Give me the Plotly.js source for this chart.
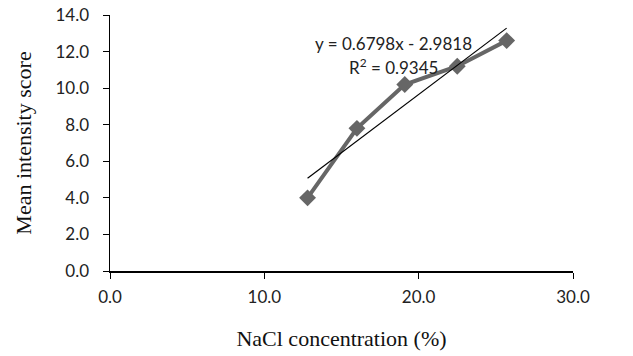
<!DOCTYPE html>
<html>
<head>
<meta charset="utf-8">
<script src="https://cdn.plot.ly/plotly-3.0.1.min.js"></script>
<style>html,body{margin:0;padding:0;background:#fff;}#chart{width:633px;height:356px;}</style>
</head>
<body>
<div id="chart"></div>
<script>
const nacl = [12.8, 16.0, 19.1, 22.5, 25.7];
const intensity = [4.0, 7.8, 10.2, 11.2, 12.6];
const equationText = 'y = 0.6798x - 2.9818';
const r2Text = 'R<sup>2</sup> = 0.9345';
const xTicks = [0, 10, 20, 30];
const yTicks = [0, 2, 4, 6, 8, 10, 12, 14];

// least-squares trend line from data
const n = nacl.length;
const mx = nacl.reduce((a,b)=>a+b,0)/n;
const my = intensity.reduce((a,b)=>a+b,0)/n;
let sxy=0, sxx=0;
for (let i=0;i<n;i++){ sxy += (nacl[i]-mx)*(intensity[i]-my); sxx += (nacl[i]-mx)**2; }
const slope = sxy/sxx, icpt = my - slope*mx;
const trendX = [Math.min(...nacl), Math.max(...nacl)];
const trendY = trendX.map(x => slope*x + icpt);

const tickFont = {family: 'Lato, "Open Sans", sans-serif', size: 17, color: '#222'};
const titleFont = {family: '"Liberation Serif", "Times New Roman", serif', size: 22, color: '#111'};
const annFont = {family: 'Lato, "Open Sans", sans-serif', size: 17, color: '#222'};

const data = [
  {x: nacl, y: intensity, type: 'scatter', mode: 'lines+markers',
   line: {color: '#666666', width: 4},
   marker: {symbol: 'diamond', size: 13, color: '#666666'}, hoverinfo: 'none'},
  {x: trendX, y: trendY, type: 'scatter', mode: 'lines',
   line: {color: '#000', width: 1.2}, hoverinfo: 'none'}
];

const layout = {
  width: 633, height: 356,
  margin: {l: 110, r: 60, t: 15, b: 85},
  paper_bgcolor: '#fff', plot_bgcolor: '#fff',
  showlegend: false,
  xaxis: {range: [0, 30], tickvals: xTicks, ticktext: xTicks.map(v => v.toFixed(1)),
    showgrid: false, zeroline: false, showline: true, linecolor: '#000', linewidth: 1.5,
    ticks: 'outside', ticklen: 6, tickcolor: '#000', tickwidth: 1, tickfont: tickFont,
    ticklabelstandoff: 4,
    title: {text: 'NaCl concentration (%)', font: titleFont, standoff: 24}},
  yaxis: {range: [0, 14], tickvals: yTicks, ticktext: yTicks.map(v => v.toFixed(1)),
    showgrid: false, zeroline: false, showline: true, linecolor: '#000', linewidth: 1.5,
    ticks: 'outside', ticklen: 6, tickcolor: '#000', tickwidth: 1, tickfont: tickFont,
    ticklabelstandoff: 10,
    title: {text: 'Mean intensity score', font: titleFont, standoff: 18}},
  annotations: [
    {x: 18.4, y: 12.42, xref: 'x', yref: 'y', text: equationText, showarrow: false,
     font: annFont, xanchor: 'center', yanchor: 'middle'},
    {x: 18.4, y: 11.2, xref: 'x', yref: 'y', text: r2Text, showarrow: false,
     font: annFont, xanchor: 'center', yanchor: 'middle'}
  ]
};

Plotly.newPlot('chart', data, layout, {staticPlot: true, displayModeBar: false});
</script>
</body>
</html>
